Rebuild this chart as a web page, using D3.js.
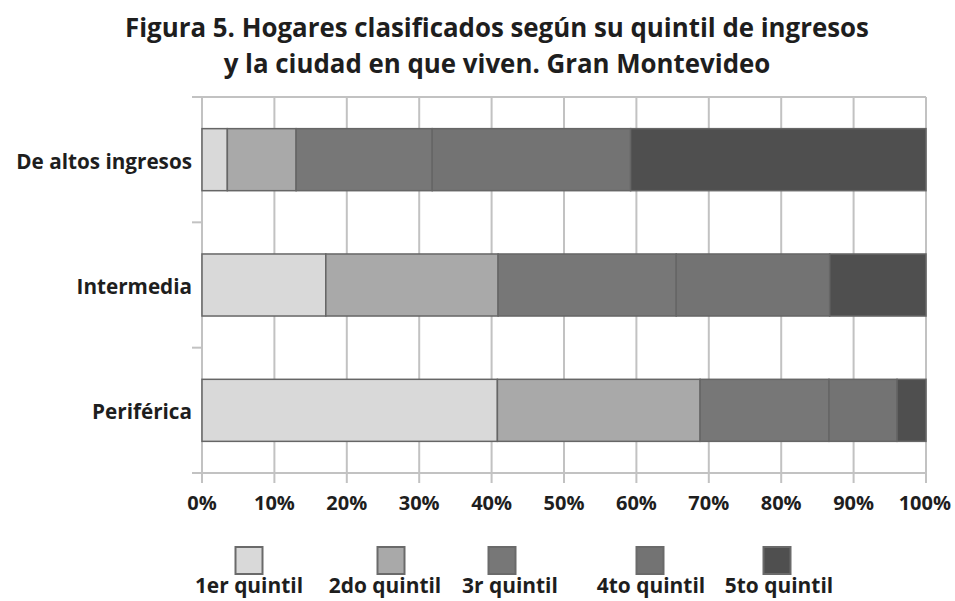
<!DOCTYPE html>
<html>
<head>
<meta charset="utf-8">
<script src="https://cdn.jsdelivr.net/npm/d3@7"></script>
<style>
  html, body { margin: 0; padding: 0; background: #ffffff; }
  svg { display: block; }
  text { font-family: "Open Sans", "DejaVu Sans", sans-serif; font-weight: 700; fill: #1e1e1e; }
</style>
</head>
<body>
<svg id="chart" width="955" height="601"></svg>
<script>
// ---- Data ----
const titleLines = ["Figura 5. Hogares clasificados según su quintil de ingresos",
                    "y la ciudad en que viven. Gran Montevideo"];
const categories = ["De altos ingresos", "Intermedia", "Periférica"];
const seriesNames = ["1er quintil", "2do quintil", "3r quintil", "4to quintil", "5to quintil"];
const quintil1 = [3.5, 17.1, 40.8];
const quintil2 = [9.5, 23.8, 28.0];
const quintil3 = [18.8, 24.6, 17.8];
const quintil4 = [27.4, 21.2, 9.4];
const quintil5 = [40.8, 13.3, 4.0];
const xTicks = [0, 10, 20, 30, 40, 50, 60, 70, 80, 90, 100];

// ---- Styles ----
const colors = ["#d9d9d9", "#a9a9a9", "#777777", "#737373", "#4f4f4f"];
const gridColor = "#c2c2c2";
const barStroke = "#666666";

const svg = d3.select("#chart");
const W = 955, H = 601;
const margin = { left: 202, right: 29, top: 97, bottom: 128 };
const plotBottom = H - margin.bottom; // 473

const x = d3.scaleLinear().domain([0, 100]).range([margin.left, W - margin.right]);
const y = d3.scaleBand().domain(categories).range([margin.top, plotBottom]).padding(0);
const barH = y.bandwidth() * 0.495;

// condensed text helper
function condense(sel, k) {
  sel.each(function () {
    const w = this.getComputedTextLength();
    d3.select(this).attr("textLength", w * k).attr("lengthAdjust", "spacingAndGlyphs");
  });
}

// ---- Title ----
const title = svg.append("g");
title.selectAll("text").data(titleLines).join("text")
  .attr("x", 497).attr("y", (d, i) => 37 + i * 36)
  .attr("text-anchor", "middle").attr("font-size", 27.5)
  .text(d => d)
  .call(condense, 0.94);

// ---- Grid ----
const grid = svg.append("g");
grid.selectAll("line.v").data(xTicks).join("line")
  .attr("class", "v")
  .attr("x1", d => x(d)).attr("x2", d => x(d))
  .attr("y1", margin.top).attr("y2", plotBottom + 10)
  .attr("stroke", gridColor).attr("stroke-width", 2);
grid.append("line")
  .attr("x1", x(0)).attr("x2", x(100)).attr("y1", margin.top).attr("y2", margin.top)
  .attr("stroke", gridColor).attr("stroke-width", 2);
const boundaries = categories.map(c => y(c)).concat([plotBottom]);
grid.selectAll("line.h").data(boundaries).join("line")
  .attr("class", "h")
  .attr("x1", x(0) - 10).attr("x2", (d, i) => (i === boundaries.length - 1 ? x(100) : x(0)))
  .attr("y1", d => d).attr("y2", d => d)
  .attr("stroke", gridColor).attr("stroke-width", 2);

// ---- Bars ----
const table = categories.map((c, i) => ({
  cat: c,
  q0: quintil1[i], q1: quintil2[i], q2: quintil3[i], q3: quintil4[i], q4: quintil5[i]
}));
const keys = ["q0", "q1", "q2", "q3", "q4"];
const stacked = d3.stack().keys(keys)(table);

svg.append("g").selectAll("g").data(stacked).join("g")
  .attr("fill", (d, i) => colors[i])
  .selectAll("rect").data(d => d).join("rect")
  .attr("x", d => x(d[0]))
  .attr("width", d => x(d[1]) - x(d[0]))
  .attr("y", d => y(d.data.cat) + (y.bandwidth() - barH) / 2)
  .attr("height", barH)
  .attr("stroke", barStroke).attr("stroke-width", 1.5);

// ---- Y labels ----
svg.append("g").selectAll("text").data(categories).join("text")
  .attr("x", 192).attr("y", d => y(d) + y.bandwidth() / 2 + 9)
  .attr("text-anchor", "end").attr("font-size", 22)
  .text(d => d)
  .call(condense, 0.94);

// ---- X tick labels ----
svg.append("g").selectAll("text").data(xTicks).join("text")
  .attr("x", d => x(d)).attr("y", 510)
  .attr("text-anchor", "middle").attr("font-size", 20)
  .text(d => d + "%")
  .each(function (d) {
    // keep the last label inside the picture: right-anchor it if it would overflow
    const w = this.getComputedTextLength();
    if (x(d) + w / 2 > W - 4) {
      d3.select(this).attr("text-anchor", "end").attr("x", W - 4);
    }
  });

// ---- Legend ----
const legendX = [249, 391, 502, 650, 777];
const legendLabelX = [249, 385, 510, 651, 779];
const legend = svg.append("g");
legend.selectAll("rect").data(seriesNames).join("rect")
  .attr("x", (d, i) => legendX[i] - 13.5).attr("y", 547)
  .attr("width", 27).attr("height", 27)
  .attr("fill", (d, i) => colors[i])
  .attr("stroke", "#6a6a6a").attr("stroke-width", 2);
legend.selectAll("text").data(seriesNames).join("text")
  .attr("x", (d, i) => legendLabelX[i]).attr("y", 593)
  .attr("text-anchor", "middle").attr("font-size", 22)
  .text(d => d)
  .call(condense, 0.95);
</script>
</body>
</html>
